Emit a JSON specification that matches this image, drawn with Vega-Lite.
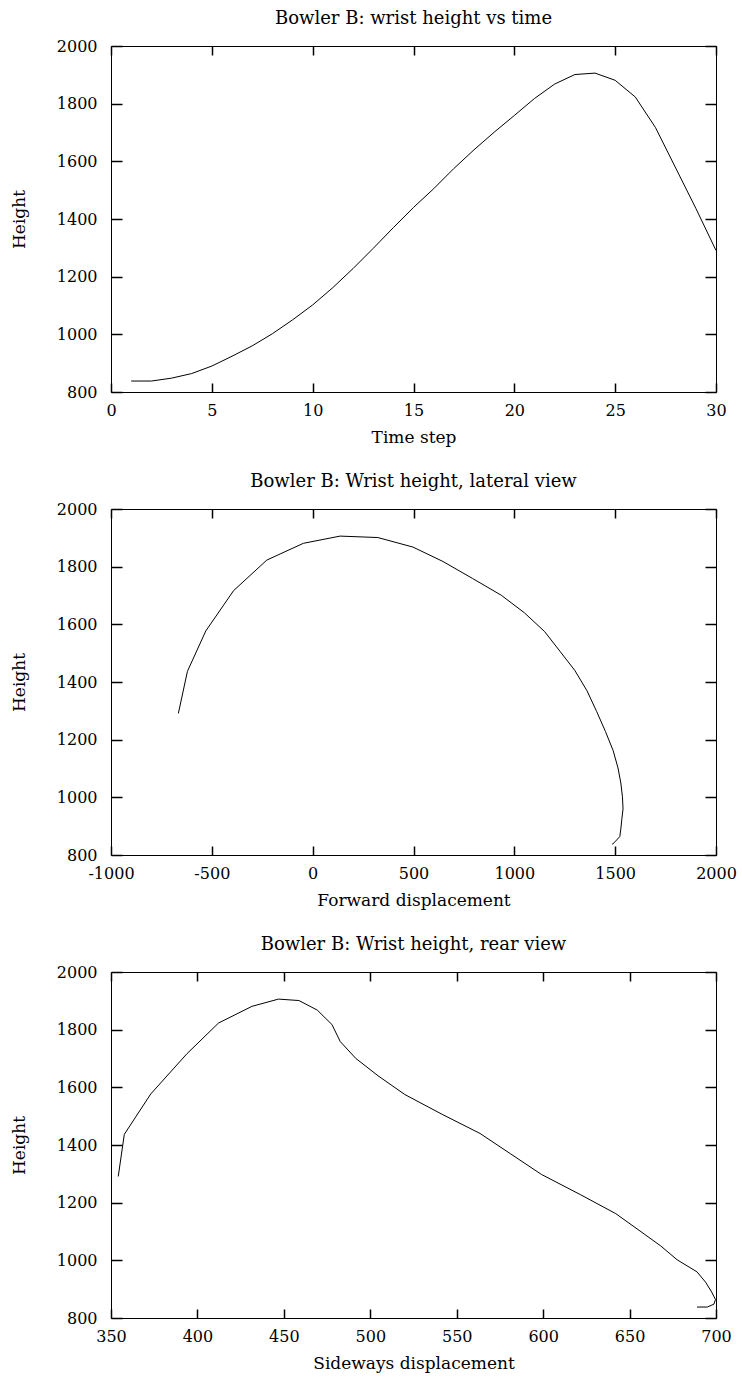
{
  "$schema": "https://vega.github.io/schema/vega-lite/v6.json",
  "padding": {"left": 9, "top": 9, "right": 5, "bottom": 5},
  "background": "white",
  "data": {"values": [
    {"t": 1, "height": 838, "forward": 1484, "sideways": 689},
    {"t": 2, "height": 838, "forward": 1488, "sideways": 695},
    {"t": 3, "height": 848, "forward": 1502, "sideways": 698.8},
    {"t": 4, "height": 864, "forward": 1523, "sideways": 699.7},
    {"t": 5, "height": 890, "forward": 1528, "sideways": 697.5},
    {"t": 6, "height": 924, "forward": 1533, "sideways": 694},
    {"t": 7, "height": 960, "forward": 1539, "sideways": 689},
    {"t": 8, "height": 1002, "forward": 1536, "sideways": 677.5},
    {"t": 9, "height": 1050, "forward": 1528, "sideways": 668},
    {"t": 10, "height": 1102, "forward": 1514, "sideways": 656},
    {"t": 11, "height": 1162, "forward": 1490, "sideways": 642},
    {"t": 12, "height": 1228, "forward": 1452, "sideways": 621.5},
    {"t": 13, "height": 1298, "forward": 1408, "sideways": 599},
    {"t": 14, "height": 1370, "forward": 1360, "sideways": 581},
    {"t": 15, "height": 1440, "forward": 1300, "sideways": 563.5},
    {"t": 16, "height": 1505, "forward": 1228, "sideways": 542},
    {"t": 17, "height": 1575, "forward": 1150, "sideways": 520},
    {"t": 18, "height": 1640, "forward": 1050, "sideways": 504.5},
    {"t": 19, "height": 1701, "forward": 935, "sideways": 491.5},
    {"t": 20, "height": 1759, "forward": 793, "sideways": 482.6},
    {"t": 21, "height": 1818, "forward": 646, "sideways": 477.8},
    {"t": 22, "height": 1868, "forward": 497, "sideways": 469.3},
    {"t": 23, "height": 1901, "forward": 323, "sideways": 458.7},
    {"t": 24, "height": 1906, "forward": 136, "sideways": 446.9},
    {"t": 25, "height": 1881, "forward": -46, "sideways": 431.6},
    {"t": 26, "height": 1823, "forward": -227, "sideways": 412.2},
    {"t": 27, "height": 1717, "forward": -392, "sideways": 394},
    {"t": 28, "height": 1577, "forward": -530, "sideways": 373},
    {"t": 29, "height": 1437, "forward": -621, "sideways": 357.7},
    {"t": 30, "height": 1291, "forward": -666, "sideways": 354.2}
  ]},
  "spacing": 26,
  "vconcat": [
    {
      "width": 605, "height": 346,
      "title": {"text": "Bowler B: wrist height vs time"},
      "layer": [
        {
          "mark": {"type": "line", "color": "black", "strokeWidth": 1},
          "encoding": {
            "x": {"field": "t", "type": "quantitative", "scale": {"domain": [0, 30], "nice": false, "zero": false},
                  "axis": {"values": [0, 5, 10, 15, 20, 25, 30], "title": "Time step", "offset": -9, "tickSize": 9, "labelPadding": 10, "labelExpr": "'' + datum.value", "tickColor": "black", "tickWidth": 1.5}},
            "y": {"field": "height", "type": "quantitative", "scale": {"domain": [800, 2000], "nice": false, "zero": false},
                  "axis": {"values": [800, 1000, 1200, 1400, 1600, 1800, 2000], "title": "Height", "offset": -11, "tickSize": 11, "labelPadding": 14, "labelExpr": "'' + datum.value", "tickColor": "black", "tickWidth": 1.5}},
            "order": {"field": "t", "type": "quantitative"}
          }
        },
        {
          "mark": {"type": "line", "strokeOpacity": 0},
          "encoding": {
            "x": {"field": "t", "type": "quantitative", "scale": {"domain": [0, 30], "nice": false, "zero": false},
                  "axis": {"orient": "top", "values": [0, 5, 10, 15, 20, 25, 30], "title": null, "labels": false, "offset": -9, "tickSize": 9, "tickColor": "black", "tickWidth": 1.5}},
            "y": {"field": "height", "type": "quantitative", "scale": {"domain": [800, 2000], "nice": false, "zero": false},
                  "axis": {"orient": "right", "values": [800, 1000, 1200, 1400, 1600, 1800, 2000], "title": null, "labels": false, "offset": -11, "tickSize": 11, "tickColor": "black", "tickWidth": 1.5}},
            "order": {"field": "t", "type": "quantitative"}
          }
        }
      ],
      "resolve": {"axis": {"x": "independent", "y": "independent"}}
    },
    {
      "width": 605, "height": 346,
      "title": {"text": "Bowler B: Wrist height, lateral view"},
      "layer": [
        {
          "mark": {"type": "line", "color": "black", "strokeWidth": 1},
          "encoding": {
            "x": {"field": "forward", "type": "quantitative", "scale": {"domain": [-1000, 2000], "nice": false, "zero": false},
                  "axis": {"values": [-1000, -500, 0, 500, 1000, 1500, 2000], "title": "Forward displacement", "offset": -9, "tickSize": 9, "labelPadding": 10, "labelExpr": "'' + datum.value", "tickColor": "black", "tickWidth": 1.5}},
            "y": {"field": "height", "type": "quantitative", "scale": {"domain": [800, 2000], "nice": false, "zero": false},
                  "axis": {"values": [800, 1000, 1200, 1400, 1600, 1800, 2000], "title": "Height", "offset": -11, "tickSize": 11, "labelPadding": 14, "labelExpr": "'' + datum.value", "tickColor": "black", "tickWidth": 1.5}},
            "order": {"field": "t", "type": "quantitative"}
          }
        },
        {
          "mark": {"type": "line", "strokeOpacity": 0},
          "encoding": {
            "x": {"field": "forward", "type": "quantitative", "scale": {"domain": [-1000, 2000], "nice": false, "zero": false},
                  "axis": {"orient": "top", "values": [-1000, -500, 0, 500, 1000, 1500, 2000], "title": null, "labels": false, "offset": -9, "tickSize": 9, "tickColor": "black", "tickWidth": 1.5}},
            "y": {"field": "height", "type": "quantitative", "scale": {"domain": [800, 2000], "nice": false, "zero": false},
                  "axis": {"orient": "right", "values": [800, 1000, 1200, 1400, 1600, 1800, 2000], "title": null, "labels": false, "offset": -11, "tickSize": 11, "tickColor": "black", "tickWidth": 1.5}},
            "order": {"field": "t", "type": "quantitative"}
          }
        }
      ],
      "resolve": {"axis": {"x": "independent", "y": "independent"}}
    },
    {
      "width": 605, "height": 346,
      "title": {"text": "Bowler B: Wrist height, rear view"},
      "layer": [
        {
          "mark": {"type": "line", "color": "black", "strokeWidth": 1},
          "encoding": {
            "x": {"field": "sideways", "type": "quantitative", "scale": {"domain": [350, 700], "nice": false, "zero": false},
                  "axis": {"values": [350, 400, 450, 500, 550, 600, 650, 700], "title": "Sideways displacement", "offset": -9, "tickSize": 9, "labelPadding": 10, "labelExpr": "'' + datum.value", "tickColor": "black", "tickWidth": 1.5}},
            "y": {"field": "height", "type": "quantitative", "scale": {"domain": [800, 2000], "nice": false, "zero": false},
                  "axis": {"values": [800, 1000, 1200, 1400, 1600, 1800, 2000], "title": "Height", "offset": -11, "tickSize": 11, "labelPadding": 14, "labelExpr": "'' + datum.value", "tickColor": "black", "tickWidth": 1.5}},
            "order": {"field": "t", "type": "quantitative"}
          }
        },
        {
          "mark": {"type": "line", "strokeOpacity": 0},
          "encoding": {
            "x": {"field": "sideways", "type": "quantitative", "scale": {"domain": [350, 700], "nice": false, "zero": false},
                  "axis": {"orient": "top", "values": [350, 400, 450, 500, 550, 600, 650, 700], "title": null, "labels": false, "offset": -9, "tickSize": 9, "tickColor": "black", "tickWidth": 1.5}},
            "y": {"field": "height", "type": "quantitative", "scale": {"domain": [800, 2000], "nice": false, "zero": false},
                  "axis": {"orient": "right", "values": [800, 1000, 1200, 1400, 1600, 1800, 2000], "title": null, "labels": false, "offset": -11, "tickSize": 11, "tickColor": "black", "tickWidth": 1.5}},
            "order": {"field": "t", "type": "quantitative"}
          }
        }
      ],
      "resolve": {"axis": {"x": "independent", "y": "independent"}}
    }
  ],
  "config": {
    "font": "DejaVu Serif",
    "view": {"stroke": "black", "strokeWidth": 1},
    "axis": {
      "domain": false, "grid": false, "ticks": true,
      "labelFont": "DejaVu Serif", "labelFontSize": 16, "labelColor": "black",
      "titleFont": "DejaVu Serif", "titleFontSize": 17, "titleFontWeight": "normal", "titleColor": "black",
      "labelFlush": false, "labelOverlap": false
    },
    "axisX": {"titlePadding": 11},
    "axisY": {"titlePadding": 28},
    "title": {"font": "DejaVu Serif", "fontSize": 18, "fontWeight": "normal", "color": "black", "offset": 10, "anchor": "middle"}
  }
}
